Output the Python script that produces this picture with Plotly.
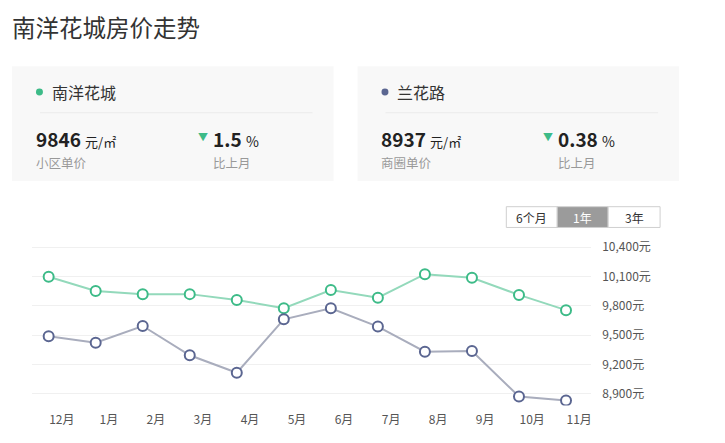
import plotly.graph_objs as go

W, H = 725, 443

months = ["12月", "1月", "2月", "3月", "4月", "5月", "6月", "7月", "8月", "9月", "10月", "11月"]
nanyang = [10097, 9952, 9918, 9920, 9861, 9776, 9962, 9884, 10124, 10087, 9912, 9756]
lanhua = [9490, 9423, 9594, 9295, 9116, 9662, 9776, 9588, 9332, 9338, 8873, 8833]
y_ticks = [8900, 9200, 9500, 9800, 10100, 10400]

GREEN_LINE = "#93d9bb"
GREEN_MARK = "#3dbb88"
GREY_LINE = "#a9adbd"
GREY_MARK = "#5b6691"
FONT = "Noto Sans CJK SC"


def px(x):
    return x / W


def py(y):
    return 1 - y / H


idx = list(range(len(months)))

fig = go.Figure()
fig.add_trace(
    go.Scatter(
        x=idx,
        y=nanyang,
        mode="lines+markers",
        name="南洋花城",
        line=dict(color=GREEN_LINE, width=2),
        marker=dict(size=10, color="white", line=dict(color=GREEN_MARK, width=2)),
    )
)
fig.add_trace(
    go.Scatter(
        x=idx,
        y=lanhua,
        mode="lines+markers",
        name="兰花路",
        line=dict(color=GREY_LINE, width=2),
        marker=dict(size=10, color="white", line=dict(color=GREY_MARK, width=2)),
    )
)

shapes = []
annotations = []


def label(x, y, text, size, color, anchor="left"):
    annotations.append(dict(xref="paper", yref="paper", x=px(x), y=py(y), text=text,
                            showarrow=False, xanchor=anchor, yanchor="middle",
                            font=dict(size=size, color=color, family=FONT)))


# title
label(10, 22, "南洋花城房价走势", 23.5, "#333")


def card(x0, x1, color, name, price, price_label, pct):
    shapes.append(dict(type="rect", xref="paper", yref="paper",
                       x0=px(x0), x1=px(x1), y0=py(178), y1=py(62),
                       fillcolor="#f8f8f8", line=dict(width=0), layer="below"))
    shapes.append(dict(type="circle", xref="paper", yref="paper",
                       x0=px(x0 + 24), x1=px(x0 + 31), y0=py(91.5), y1=py(84.5),
                       fillcolor=color, line=dict(width=0)))
    shapes.append(dict(type="line", xref="paper", yref="paper",
                       x0=px(x0 + 28), x1=px(x1 - 21), y0=py(109), y1=py(109),
                       line=dict(color="#ebebeb", width=1)))
    label(x0 + 38, 88, name, 16, "#333")
    label(x0 + 22, 135.5, "<b>%s</b> <span style='font-size:13px'>元/㎡</span>" % price, 19, "#222")
    label(x0 + 22, 159, price_label, 12.5, "#999")
    label(x0 + 184, 133, "▼", 10, GREEN_MARK)
    label(x0 + 199, 135.5, "<b>%s</b> <span style='font-size:14px'>%%</span>" % pct, 19, "#222")
    label(x0 + 199, 159, "比上月", 12.5, "#999")


card(12, 334, GREEN_MARK, "南洋花城", "9846", "小区单价", "1.5")
card(358, 680, GREY_MARK, "兰花路", "8937", "商圈单价", "0.38")

# range buttons
buttons = [("6个月", 507, 558, False), ("1年", 558, 609, True), ("3年", 609, 661, False)]
for text, bx0, bx1, active in buttons:
    shapes.append(dict(type="rect", xref="paper", yref="paper",
                       x0=px(bx0), x1=px(bx1), y0=py(225), y1=py(204),
                       fillcolor="#9b9b9b" if active else "white",
                       line=dict(color="#cfcfcf", width=1)))
    label((bx0 + bx1) / 2, 214.5, text, 12, "white" if active else "#333", anchor="center")

fig.update_layout(
    width=W,
    height=H,
    margin=dict(l=0, r=0, t=0, b=0),
    paper_bgcolor="white",
    plot_bgcolor="white",
    showlegend=False,
    font=dict(family=FONT, color="#555", size=12),
    shapes=shapes,
    annotations=annotations,
    xaxis=dict(
        domain=[px(32), px(592)],
        range=[-0.355, 11.535],
        tickmode="array",
        tickvals=[i + 0.28 for i in idx],
        ticktext=months,
        showgrid=False,
        zeroline=False,
        showline=False,
        ticks="",
        ticklabelstandoff=6,
        tickfont=dict(size=12, color="#555"),
    ),
    yaxis=dict(
        domain=[py(405), py(240)],
        range=[8782, 10450],
        side="right",
        tickmode="array",
        tickvals=y_ticks,
        ticktext=["{:,}元".format(v) for v in y_ticks],
        showgrid=True,
        gridcolor="#f0f0f0",
        zeroline=False,
        showline=False,
        ticks="",
        ticklabelstandoff=10,
        tickfont=dict(size=12, color="#555"),
    ),
)

fig.write_html(
    "out.html",
    config={"displayModeBar": False},
    post_script="document.body.style.margin='0';",
)
